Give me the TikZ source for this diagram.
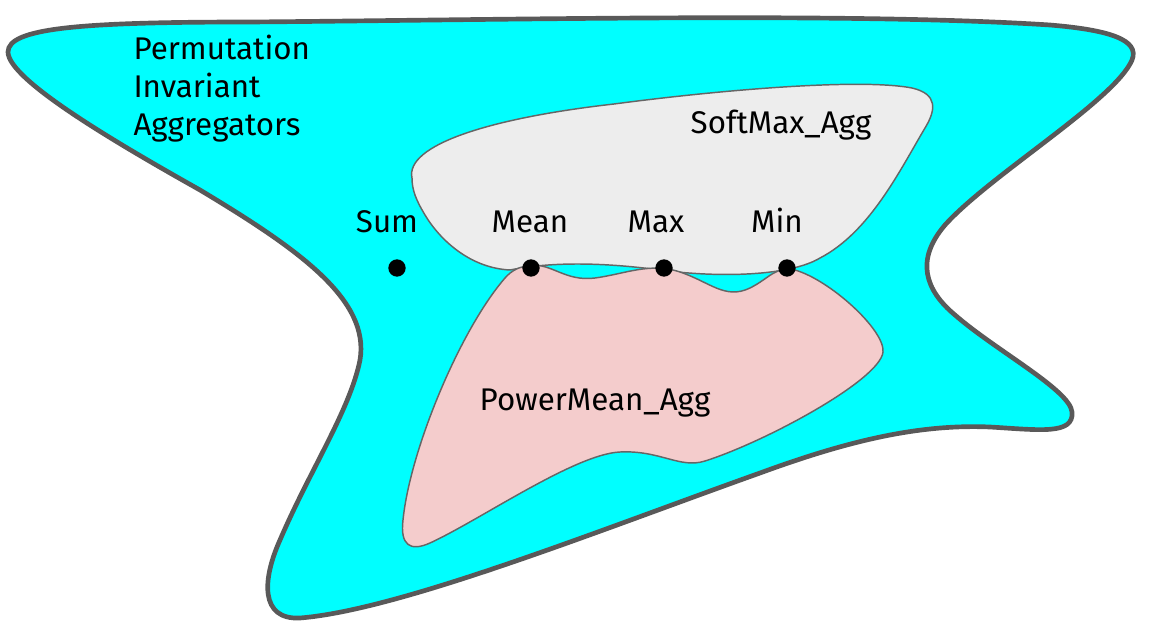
\documentclass[tikz,border=0pt]{standalone}
\usepackage{fontspec}
\setmainfont{Fira Sans}

\tikzset{every picture/.style={line width=0.75pt}}
\tikzset{
  dot/.style={circle,fill=black,inner sep=0pt,minimum size=13pt},
  lbl/.style={anchor=base,inner sep=0.75pt,font=\fontsize{23.5}{28.5}\selectfont},
}

\begin{document}
\begin{tikzpicture}[x=0.75pt,y=0.75pt,yscale=-1,xscale=1]
\useasboundingbox (0,0) rectangle (1151,638);

% outer region
\draw [color={rgb, 255:red, 89; green, 89; blue, 89 }, fill={rgb, 255:red, 0; green, 255; blue, 255 }][line width=3.5] (8,52) .. controls (8,28) and (80,22) .. (250,22) .. controls (500,20) and (850,12) .. (1050,25) .. controls (1110,30) and (1140,40) .. (1132,60) .. controls (1115,100) and (990,175) .. (945,225) .. controls (915,260) and (925,290) .. (955,315) .. controls (995,350) and (1070,390) .. (1072,412) .. controls (1074,435) and (1040,430) .. (990,427) .. controls (920,424) and (850,440) .. (760,473) .. controls (600,530) and (400,610) .. (300,618) .. controls (260,620) and (262,580) .. (280,540) .. controls (310,470) and (350,410) .. (360,360) .. controls (370,300) and (300,250) .. (200,190) .. controls (120,145) and (8,80) .. (8,52) -- cycle ;
% softmax region
\draw [color={rgb, 255:red, 102; green, 102; blue, 102 }, fill={rgb, 255:red, 237; green, 237; blue, 237 }][line width=1.1] (412,178) .. controls (405,145) and (490,118) .. (614,104) .. controls (720,90) and (860,78) .. (912,88) .. controls (938,94) and (936,110) .. (925,128) .. controls (900,170) and (870,232) .. (820,258) .. controls (790,276) and (720,278) .. (660,270) .. controls (600,262) and (550,262) .. (510,270) .. controls (470,268) and (440,240) .. (425,215) .. controls (416,200) and (412,190) .. (412,178) -- cycle ;
% powermean region
\draw [color={rgb, 255:red, 102; green, 102; blue, 102 }, fill={rgb, 255:red, 244; green, 204; blue, 204 }][line width=1.1] (531,266) .. controls (550,262) and (565,282) .. (595,278) .. controls (625,274) and (650,262) .. (680,272) .. controls (710,282) and (725,300) .. (750,288) .. controls (770,278) and (775,266) .. (795,270) .. controls (830,280) and (885,330) .. (883,352) .. controls (880,380) and (765,442) .. (705,461) .. controls (680,469) and (660,450) .. (620,452) .. controls (575,454) and (480,520) .. (430,543) .. controls (410,552) and (400,545) .. (403,520) .. controls (410,450) and (460,330) .. (505,278) .. controls (512,270) and (520,266) .. (531,266) -- cycle ;

\node [dot] (sum) at (397,268) {};
\node [dot] (mean) at (531,268) {};
\node [dot] (max) at (664,268) {};
\node [dot] (min) at (787,268) {};

\node [lbl] (sumlbl) at (387,232) {Sum};
\node [lbl] (meanlbl) at (530,232) {Mean};
\node [lbl] (maxlbl) at (656,232) {Max};
\node [lbl] (minlbl) at (777,232) {Min};
\node [lbl] (softmaxlbl) at (781,133) {SoftMax\_Agg};
\node [lbl] (powermeanlbl) at (595,410) {PowerMean\_Agg};
\node [lbl,anchor=north west,align=left,inner sep=0pt] (pialbl) at (133,35) {Permutation\\Invariant\\Aggregators};
\end{tikzpicture}
\end{document}
